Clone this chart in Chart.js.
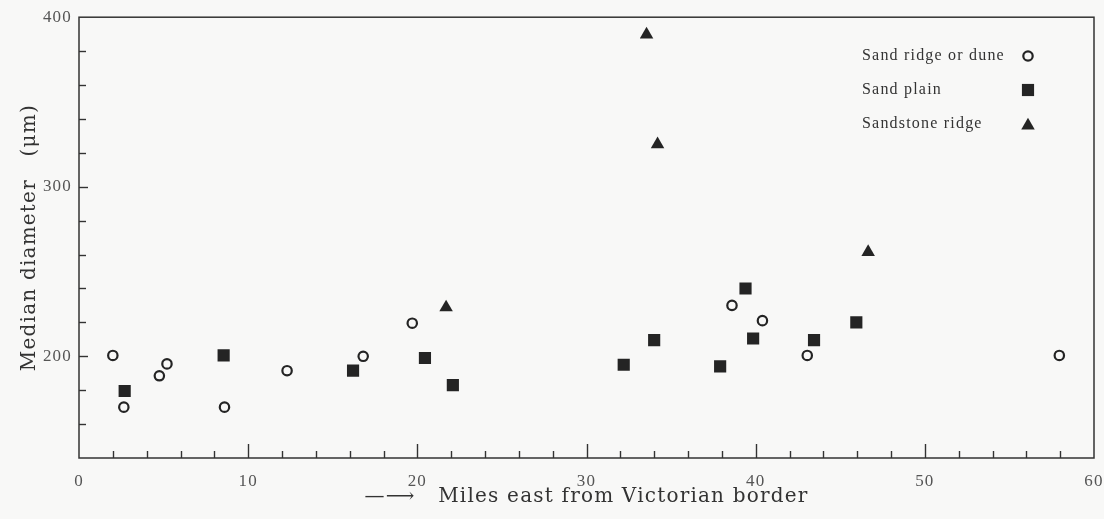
<!DOCTYPE html>
<html>
<head>
<meta charset="utf-8">
<script src="https://cdn.jsdelivr.net/npm/chart.js@4/dist/chart.umd.min.js"></script>
<style>
html, body { margin: 0; padding: 0; background: #f8f8f7; }
#wrap { width: 1104px; height: 519px; }
</style>
</head>
<body>
<div id="wrap"><canvas id="c" width="1104" height="519"></canvas></div>
<script>
// Miles east from Victorian border (x) and median diameter in micrometres (y)
const duneX  = [2.0, 2.65, 4.75, 5.2, 8.6, 12.3, 16.8, 19.7, 38.6, 40.4, 43.05, 57.95];
const duneY  = [200.5, 170, 188.5, 195.5, 170, 191.5, 200, 219.5, 230, 221, 200.5, 200.5];
const plainX = [2.7, 8.55, 16.2, 20.45, 22.1, 32.2, 34.0, 37.9, 39.4, 39.85, 43.45, 45.95];
const plainY = [179.5, 200.5, 191.5, 199, 183, 195, 209.5, 194, 240, 210.5, 209.5, 220];
const ridgeX = [21.7, 33.55, 34.2, 46.65];
const ridgeY = [228.8, 389.7, 325, 261.5];

const seriesLabels = ['Sand ridge or dune', 'Sand plain', 'Sandstone ridge'];
const xTicksMajor = [0, 10, 20, 30, 40, 50, 60];
const yTicksMajor = [200, 300, 400];

const ink = '#242424';
const serif = "'Liberation Serif', 'DejaVu Serif', serif";
const wideSerif = "'DejaVu Serif', 'Liberation Serif', serif";

function pts(xs, ys) { return xs.map((x, i) => ({x: x, y: ys[i]})); }

const bgPlugin = {
  id: 'bg',
  beforeDraw(chart) {
    const ctx = chart.ctx;
    ctx.save();
    ctx.fillStyle = '#f8f8f7';
    ctx.fillRect(0, 0, chart.width, chart.height);
    ctx.restore();
    try { ctx.letterSpacing = '1.2px'; } catch (e) {}
  }
};

const framePlugin = {
  id: 'frame',
  afterDatasetsDraw(chart) {
    const {ctx, chartArea: a, scales: {x, y}} = chart;
    ctx.save();
    ctx.strokeStyle = '#333';
    ctx.lineWidth = 1.5;
    ctx.strokeRect(a.left, a.top, a.right - a.left, a.bottom - a.top);
    ctx.lineWidth = 1.4;
    x.ticks.forEach(t => {
      if (t.value <= x.min || t.value >= x.max) return;
      const px = Math.round(x.getPixelForValue(t.value)) + 0.5;
      const len = xTicksMajor.includes(t.value) ? 14 : 7;
      ctx.beginPath(); ctx.moveTo(px, a.bottom); ctx.lineTo(px, a.bottom - len); ctx.stroke();
    });
    y.ticks.forEach(t => {
      if (t.value <= y.min || t.value >= y.max) return;
      const py = Math.round(y.getPixelForValue(t.value)) + 0.5;
      const len = yTicksMajor.includes(t.value) ? 9 : 7;
      ctx.beginPath(); ctx.moveTo(a.left, py); ctx.lineTo(a.left + len, py); ctx.stroke();
    });
    ctx.restore();
  }
};

const legendPlugin = {
  id: 'customLegend',
  afterDraw(chart) {
    const ctx = chart.ctx;
    const textX = 862, markX = 1028, rowY = [56, 90, 124];
    ctx.save();
    ctx.textBaseline = 'middle';
    ctx.textAlign = 'left';
    chart.data.datasets.forEach((ds, i) => {
      ctx.font = "16px " + serif;
      ctx.fillStyle = '#333';
      ctx.fillText(ds.label, textX, rowY[i]);
      ctx.fillStyle = ds.backgroundColor;
      ctx.strokeStyle = ds.borderColor;
      ctx.lineWidth = ds.borderWidth;
      Chart.helpers.drawPoint(ctx, {
        pointStyle: ds.pointStyle,
        radius: ds.pointRadius,
        rotation: 0,
        borderWidth: ds.borderWidth
      }, markX, rowY[i] + (ds.pointStyle === 'triangle' ? 1.5 : 0));
    });
    ctx.restore();
  }
};

new Chart(document.getElementById('c'), {
  type: 'scatter',
  data: {
    datasets: [
      { label: seriesLabels[0], data: pts(duneX, duneY), pointStyle: 'circle', pointRadius: 4.7,
        borderWidth: 2.2, borderColor: ink, backgroundColor: 'rgba(0,0,0,0)' },
      { label: seriesLabels[1], data: pts(plainX, plainY), pointStyle: 'rect', pointRadius: 8.6,
        borderWidth: 0, borderColor: ink, backgroundColor: ink },
      { label: seriesLabels[2], data: pts(ridgeX, ridgeY), pointStyle: 'triangle', pointRadius: 7.8,
        borderWidth: 0, borderColor: ink, backgroundColor: ink }
    ]
  },
  options: {
    responsive: false,
    animation: false,
    devicePixelRatio: 1,
    layout: { padding: { top: 17, right: 0, left: 0, bottom: 0 } },
    plugins: { legend: { display: false }, tooltip: { enabled: false } },
    scales: {
      x: {
        type: 'linear', min: 0, max: 60,
        afterFit(s) { s.height = 61; s.paddingRight = 10; s.paddingLeft = 0; },
        grid: { display: false, drawTicks: false },
        border: { display: false },
        ticks: {
          stepSize: 2, autoSkip: false, maxRotation: 0, padding: 13,
          color: '#555', font: { family: serif, size: 17 },
          callback: v => xTicksMajor.includes(v) ? String(v) : ''
        },
        title: {
          display: true, text: '\u2014\u27F6   Miles east from Victorian border',
          color: '#333', font: { family: wideSerif, size: 20 }, padding: { top: 0, bottom: 10 }
        }
      },
      y: {
        type: 'linear', min: 140, max: 400,
        afterFit(s) { s.width = 79; },
        grid: { display: false, drawTicks: false },
        border: { display: false },
        ticks: {
          stepSize: 20, autoSkip: false, padding: 7,
          color: '#555', font: { family: serif, size: 17 },
          callback: v => yTicksMajor.includes(v) ? String(v) : ''
        },
        title: {
          display: true, text: 'Median diameter   (\u03BCm)',
          color: '#333', font: { family: wideSerif, size: 20 }, padding: { top: 18, bottom: 0 }
        }
      }
    }
  },
  plugins: [bgPlugin, framePlugin, legendPlugin]
});
</script>
</body>
</html>
